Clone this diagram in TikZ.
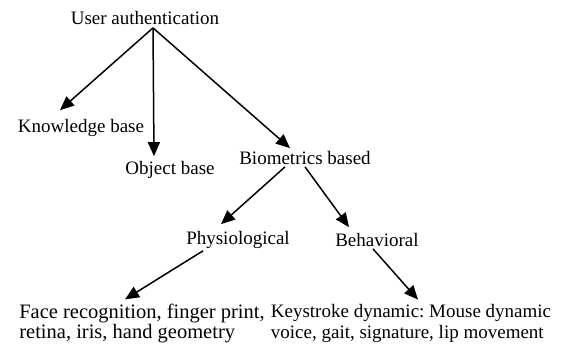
\documentclass[tikz,border=0pt]{standalone}
\usepackage{fontspec}
\setmainfont{Liberation Serif}
\usepackage{tikz}
\usetikzlibrary{arrows.meta, positioning}

\begin{document}
\frenchspacing
\begin{tikzpicture}[x=1pt, y=-1pt,
    every node/.style={font=\fontsize{19}{21}\selectfont, inner sep=0pt},
    leaf/.style={align=left},
    branch/.style={-{Triangle[length=14pt, width=12pt]}, line width=1.5pt}]
        \useasboundingbox (0,0) rectangle (562,345);

        % Radice
        \node (ua) at (145, 18) {User authentication};

        % Primo livello
        \node (kb) at (81, 128) {Knowledge base};
        \node (ob) at (170, 170) {Object base};
        \node (bio) at (305, 158) {Biometrics based};

        % Secondo livello
        \node (phy) at (238, 240) {Physiological};
        \node (beh) at (377, 240) {Behavioral};

        % Foglie
        \node[leaf, font=\fontsize{20.5}{20}\selectfont] (face) at (142, 323) {Face recognition, finger print,\\retina, iris, hand geometry};
        \node[leaf] (key) at (411, 323) {Keystroke dynamic: Mouse dynamic\\voice, gait, signature, lip movement};

        % Frecce
        \draw[branch] ([xshift=8, yshift=-3]ua.south) -- ([xshift=-21, yshift=9]kb.north);
        \draw[branch] ([xshift=8, yshift=-3]ua.south) -- ([xshift=-16, yshift=5]ob.north);
        \draw[branch] ([xshift=8, yshift=-3]ua.south) -- ([xshift=-15, yshift=3]bio.north);
        \draw[branch] ([xshift=-20, yshift=-2]bio.south) -- ([xshift=-17, yshift=7]phy.north);
        \draw[branch] ([xshift=0, yshift=-2]bio.south) -- ([xshift=-28, yshift=6]beh.north);
        \draw[branch] ([xshift=-35, yshift=-2]phy.south) -- ([xshift=-17, yshift=4]face.north);
        \draw[branch] ([xshift=-4, yshift=-2]beh.south) -- ([xshift=7, yshift=4]key.north);
\end{tikzpicture}
\end{document}
